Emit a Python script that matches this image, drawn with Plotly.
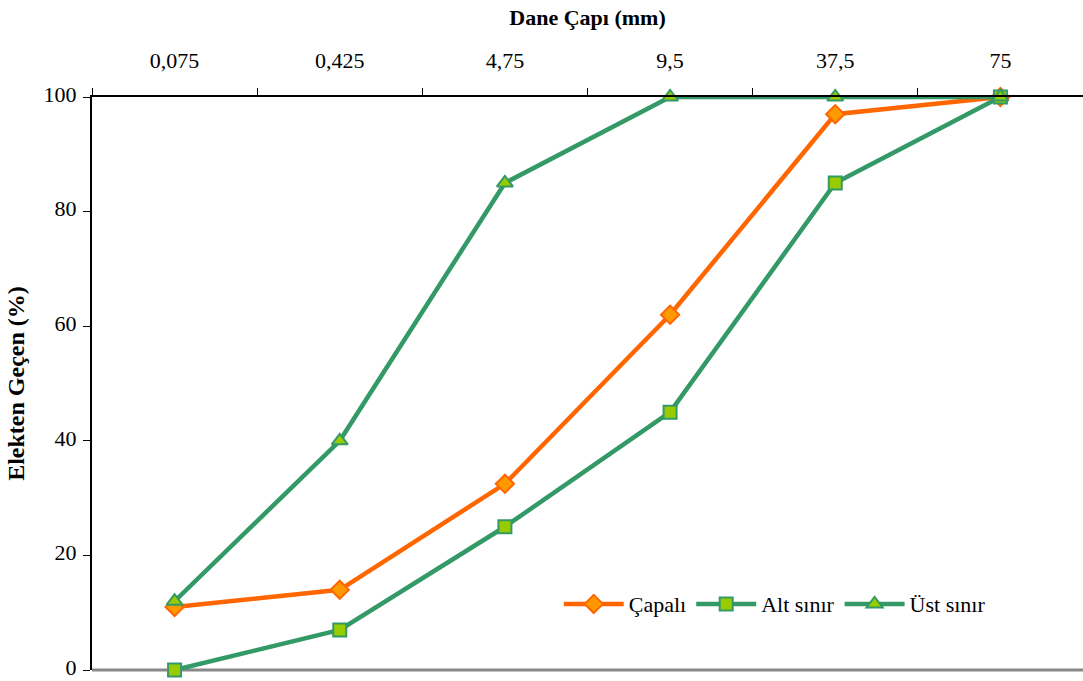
import plotly.graph_objects as go

categories = ["0,075", "0,425", "4,75", "9,5", "37,5", "75"]
capali = [11, 14, 32.5, 62, 97, 100]
alt_sinir = [0, 7, 25, 45, 85, 100]
ust_sinir = [12, 40, 85, 100, 100, 100]

FONT = "Liberation Serif, Times New Roman, serif"
ORANGE = "#FF6600"
GREEN = "#339966"
LIME = "#99CC00"

fig = go.Figure()
fig.add_trace(go.Scatter(
    x=categories, y=capali, name="Çapalı", mode="lines+markers",
    line=dict(color=ORANGE, width=4.5),
    marker=dict(symbol="diamond", size=14, color="#FF9900", line=dict(color=ORANGE, width=2)),
    cliponaxis=False,
))
fig.add_trace(go.Scatter(
    x=categories, y=alt_sinir, name="Alt sınır", mode="lines+markers",
    line=dict(color=GREEN, width=4.5),
    marker=dict(symbol="square", size=13, color=LIME, line=dict(color=GREEN, width=2)),
    cliponaxis=False,
))
fig.add_trace(go.Scatter(
    x=categories, y=ust_sinir, name="Üst sınır", mode="lines+markers",
    line=dict(color=GREEN, width=4.5),
    marker=dict(symbol="triangle-up", size=14, color=LIME, line=dict(color=GREEN, width=2)),
    cliponaxis=False,
))

fig.add_shape(type="line", xref="paper", yref="paper", x0=0, x1=1, y0=0, y1=0,
              line=dict(color="#888888", width=3), layer="below")

fig.update_layout(
    width=1083, height=681,
    margin=dict(l=92, r=0, t=97, b=11),
    paper_bgcolor="white", plot_bgcolor="white",
    font=dict(family=FONT, size=22, color="black"),
    showlegend=True,
    legend=dict(orientation="h", x=0.471, y=0.115, xanchor="left", yanchor="middle",
                font=dict(family=FONT, size=22), bgcolor="rgba(0,0,0,0)",
                itemwidth=60, tracegroupgap=0),
    xaxis=dict(
        side="top", type="category", range=[-0.5, 5.5], automargin=False,
        showline=True, linecolor="black", linewidth=2,
        ticks="outside", tickson="boundaries", ticklen=7, tickcolor="black", tickwidth=1,
        ticklabelstandoff=18,
        showgrid=False, zeroline=False,
        tickfont=dict(family=FONT, size=22),
        title=dict(text="<b>Dane Çapı (mm)</b>", font=dict(family=FONT, size=22), standoff=17),
    ),
    yaxis=dict(
        range=[0, 100], tickvals=[0, 20, 40, 60, 80, 100], automargin=False,
        showline=True, linecolor="black", linewidth=2,
        ticks="outside", ticklen=7, tickcolor="black", tickwidth=1,
        ticklabelstandoff=2, ticklabelshift=-3, ticklabeloverflow="allow",
        showgrid=False, zeroline=False,
        tickfont=dict(family=FONT, size=22),
        title=dict(text="<b>Elekten Geçen (%)</b>", font=dict(family=FONT, size=24), standoff=12),
    ),
)

fig.write_html(
    "out.html",
    config={"displayModeBar": False},
    post_script="document.body.style.margin='0';document.body.style.padding='0';",
)
